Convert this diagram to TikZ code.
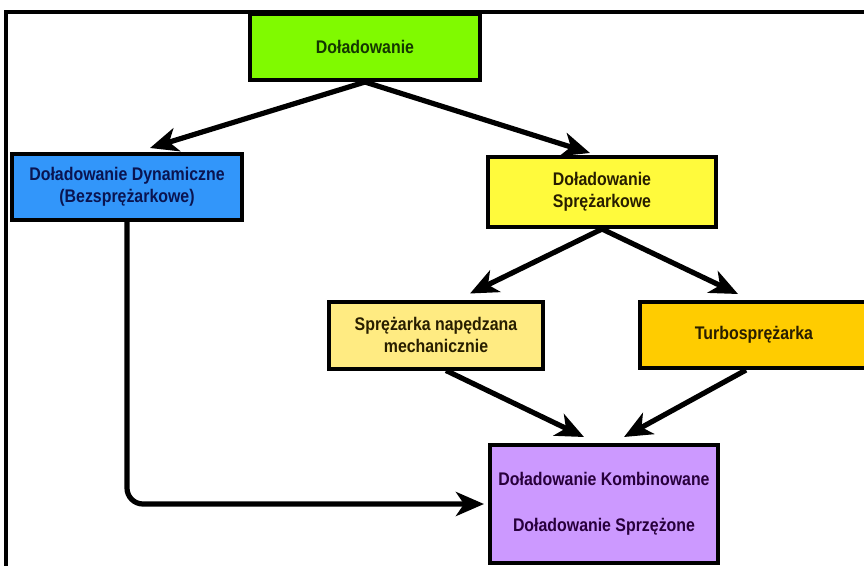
\documentclass[tikz,border=0pt]{standalone}
\usepackage{fontspec}
\setmainfont{Liberation Sans}[FakeStretch=0.87]
\usepackage{xcolor}
\usetikzlibrary{arrows.meta}
\definecolor{boxgreen}{RGB}{128,250,0}
\definecolor{boxblue}{RGB}{50,150,250}
\definecolor{boxyellow}{RGB}{255,250,60}
\definecolor{boxcream}{RGB}{255,235,130}
\definecolor{boxgold}{RGB}{255,204,0}
\definecolor{boxviolet}{RGB}{204,153,255}
\definecolor{txtgreen}{RGB}{20,55,0}
\definecolor{txtblue}{RGB}{10,20,80}
\definecolor{txtbrown}{RGB}{40,30,0}
\definecolor{txtviolet}{RGB}{40,0,60}

\begin{document}
\begin{tikzpicture}[
  x=0.25mm, y=-0.25mm,
  font=\fontsize{13}{16}\selectfont\bfseries,
  box/.style={draw, line width=1mm, align=center, inner sep=2pt},
  arr/.style={line width=1.3mm, -{Stealth[length=7mm,width=6mm,inset=2mm]}}
]
\clip (0,0) rectangle (864,565);
% frame
\draw[line width=0.8mm] (6,600) -- (6,12) -- (900,12);
% boxes
\node[box, fill=boxgreen, text=txtgreen, minimum width=57.5mm, minimum height=16.5mm] (dol) at (365,47) {Doładowanie};
\node[box, fill=boxblue, text=txtblue, minimum width=57.5mm, minimum height=16.5mm] (dyn) at (127,187) {Doładowanie Dynamiczne\\(Bezsprężarkowe)};
\node[box, fill=boxyellow, text=txtbrown, minimum width=57mm, minimum height=17.5mm] (spr) at (602,192) {Doładowanie\\Sprężarkowe};
\node[box, fill=boxcream, text=txtbrown, minimum width=53.5mm, minimum height=16.75mm] (mech) at (436,335) {Sprężarka napędzana\\mechanicznie};
\node[box, fill=boxgold, text=txtbrown, minimum width=57mm, minimum height=16.5mm] (turbo) at (754,335) {Turbosprężarka};
\node[box, fill=boxviolet, text=txtviolet, minimum width=57mm, minimum height=29.5mm] (komb) at (604,504) {Doładowanie Kombinowane\\[6mm]Doładowanie Sprzężone};
% arrows
\draw[arr] (dol.south) -- ([xshift=5.75mm,yshift=1mm]dyn.north);
\draw[arr] (dol.south) -- ([xshift=-3mm,yshift=0.5mm]spr.north);
\draw[arr] (spr.south) -- ([xshift=8.5mm,yshift=1.5mm]mech.north);
\draw[arr] (spr.south) -- ([xshift=-4mm,yshift=1.5mm]turbo.north);
\draw[arr] ([xshift=2.5mm]mech.south) -- ([xshift=-5mm,yshift=1.5mm]komb.north);
\draw[arr] ([xshift=-2mm]turbo.south) -- ([xshift=5mm,yshift=1.5mm]komb.north);
\draw[arr, rounded corners=4mm] (dyn.south) |- ([xshift=-1mm]komb.west);
\end{tikzpicture}
\end{document}
